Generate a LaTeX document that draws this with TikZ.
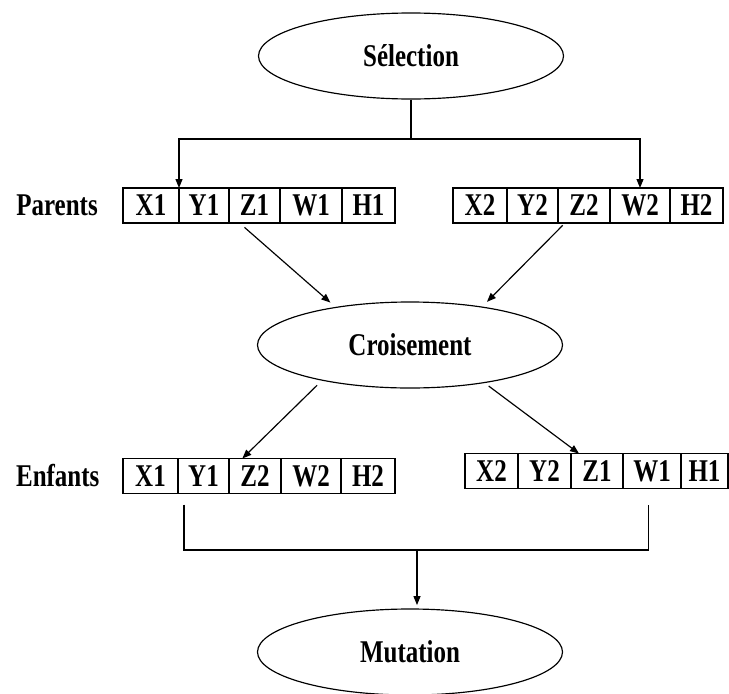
\documentclass[tikz,border=0pt]{standalone}
\usepackage{fontspec}
\setmainfont{Liberation Serif}[FakeStretch=0.79]
\usetikzlibrary{positioning,shapes.geometric,arrows.meta}
\tikzset{
	oval/.style={draw,ellipse,line width=1pt,minimum width=91.5mm,minimum height=25.8mm,inner sep=0pt},
	cell/.style={draw,line width=1pt,minimum height=10.5mm,inner sep=0pt,outer sep=0pt},
	lbl/.style={inner sep=0pt},
	arr/.style={line width=1pt,-{Triangle[length=2.7mm,width=2.1mm]}}
}
%one chromosome: name, x, y of its left side, list of gene/width
\newcommand{\Chrom}[4]{
	\foreach \t/\w [count=\i] in {#4}{
		\ifnum\i=1
			\node[cell,minimum width=\w*0.3mm,anchor=west] (#1-\i) at (#2,#3) {\t};
		\else
			\pgfmathtruncatemacro{\j}{\i-1}
			\node[cell,minimum width=\w*0.3mm,right=0pt of #1-\j] (#1-\i) {\t};
		\fi
	}
}
\begin{document}
\begin{tikzpicture}[x=0.3mm,y=-0.3mm,font=\fontsize{27}{32}\selectfont\bfseries]
	\useasboundingbox (0,0) rectangle (729,693);
	
	%selection
	\node[oval] (sel) at (411,56) {Sélection};
	\coordinate (fork) at (411,139);
	
	%parents
	\Chrom{pa}{123}{205.5}{X1/56,Y1/50,Z1/51,W1/62,H1/53}
	\Chrom{pb}{453}{205.5}{X2/54,Y2/51,Z2/52,W2/60,H2/53}
	\node[lbl,left=7.5mm of pa-1] (parents) {Parents};
	
	\draw[line width=1pt] (sel) -- (fork);
	\draw[arr] (fork) -| (pa-2.north west);
	\draw[arr] (fork) -| (pb-4.north);
	
	%croisement
	\node[oval] (cro) at (410,345) {Croisement};
	\draw[arr,shorten <=2mm,shorten >=2mm] ([xshift=-4.5mm]pa-3.south) -- (cro.153);
	\draw[arr,shorten <=1mm,shorten >=2mm] ([xshift=-5.7mm]pb-3.south) -- (cro.28);
	
	%enfants
	\Chrom{ea}{123}{476}{X1/55,Y1/51,Z2/52,W2/60,H2/54}
	\Chrom{eb}{465}{471}{X2/53,Y2/53,Z1/52,W1/58,H1/47}
	\node[lbl,left=7mm of ea-1] (enfants) {Enfants};
	
	\draw[arr,shorten <=2mm] (cro.202) -- ([xshift=4mm]ea-3.north west);
	\draw[arr,shorten <=1.5mm] (cro.333) -- ([xshift=2.4mm]eb-3.north west);
	
	%mutation
	\node[oval] (mut) at (410,652) {Mutation};
	\coordinate (join) at (417,550);
	\draw[line width=1pt] ([xshift=1.8mm,yshift=-3.3mm]ea-2.south west) |- (join) -| ([xshift=-1mm,yshift=-4.8mm]eb-4.south);
	\draw[arr,shorten >=1mm] (join) -- (join |- mut.north);
\end{tikzpicture}
\end{document}
